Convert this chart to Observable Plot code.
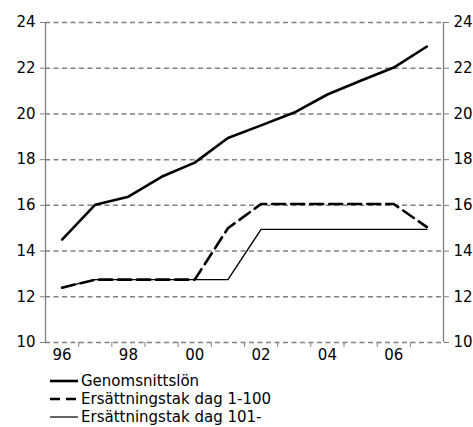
<!DOCTYPE html>
<html>
<head>
<meta charset="utf-8">
<script src="https://cdn.jsdelivr.net/npm/d3@7"></script>
<script src="https://cdn.jsdelivr.net/npm/@observablehq/plot@0.6"></script>
<style>
  body { margin: 0; background: #fff; font-family: "DejaVu Sans", Verdana, sans-serif; }
  #chart svg text { font-size: 15px !important; font-family: "DejaVu Sans", Verdana, sans-serif !important; fill: #000; }
  #legend { margin-left: 50px; margin-top: 7px; font-size: 15px; color: #000; }
  .row { display: flex; align-items: center; height: 18px; }
  .row svg { margin-right: 3px; }
</style>
</head>
<body>
<div id="chart"></div>
<div id="legend"></div>
<script>
const years = [1996, 1997, 1998, 1999, 2000, 2001, 2002, 2003, 2004, 2005, 2006, 2007];
const genomsnittslon = [14.5, 16.03, 16.38, 17.25, 17.87, 18.95, 19.5, 20.06, 20.85, 21.45, 22.03, 22.95];
const tak1_100 = [12.4, 12.75, 12.75, 12.75, 12.75, 15.0, 16.06, 16.06, 16.06, 16.06, 16.06, 15.05];
const tak101 = [12.4, 12.75, 12.75, 12.75, 12.75, 12.75, 14.95, 14.95, 14.95, 14.95, 14.95, 14.95];
const yTicks = [10, 12, 14, 16, 18, 20, 22, 24];
const xLabelYears = [1996, 1998, 2000, 2002, 2004, 2006];
const xDomain = [1995.5, 2007.5];
const xTickBounds = [1996.5, 1997.5, 1998.5, 1999.5, 2000.5, 2001.5, 2002.5, 2003.5, 2004.5, 2005.5, 2006.5];
const seriesNames = ["Genomsnittslön", "Ersättningstak dag 1-100", "Ersättningstak dag 101-"];

const rows = (vals) => years.map((y, i) => ({year: y, value: vals[i]}));
const grid = "#808080";
const FS = 15;

const plot = Plot.plot({
  width: 473,
  height: 365,
  marginLeft: 45,
  marginRight: 30,
  marginTop: 22,
  marginBottom: 23,
  style: {fontFamily: "DejaVu Sans, Verdana, sans-serif", fontSize: "15px", color: "#000", background: "#fff"},
  x: {type: "linear", domain: xDomain},
  y: {domain: [10, 24]},
  marks: [
    Plot.ruleY(yTicks, {stroke: grid, strokeWidth: 1.5, strokeDasharray: "5,3.5"}),
    Plot.ruleX(xDomain, {stroke: grid, strokeWidth: 1.3}),
    Plot.axisY({anchor: "left", ticks: yTicks, tickSize: 5, tickPadding: 5, stroke: grid, fill: "#000", fontSize: FS, label: null, tickFormat: d => d}),
    Plot.axisY({anchor: "right", ticks: yTicks, tickSize: 5, tickPadding: 5, stroke: grid, fill: "#000", fontSize: FS, label: null, tickFormat: d => d}),
    Plot.axisX({ticks: xTickBounds, tickSize: 5, stroke: grid, tickFormat: () => "", label: null}),
    Plot.axisX({ticks: xLabelYears, tickSize: 0, tickPadding: 7, fill: "#000", fontSize: FS, label: null, tickFormat: d => String(d).slice(2)}),
    Plot.line(rows(tak101), {x: "year", y: "value", stroke: "#000", strokeWidth: 1.4}),
    Plot.line(rows(tak1_100), {x: "year", y: "value", stroke: "#000", strokeWidth: 2.6, strokeDasharray: "13,6"}),
    Plot.line(rows(genomsnittslon), {x: "year", y: "value", stroke: "#000", strokeWidth: 2.6})
  ]
});
d3.select(plot).selectAll("text").attr("font-size", FS).style("font-size", FS + "px");
document.getElementById("chart").appendChild(plot);

const legendStyles = [
  {w: 2.6, dash: null},
  {w: 2.6, dash: "10,6"},
  {w: 1.2, dash: null}
];
const legend = document.getElementById("legend");
seriesNames.forEach((name, i) => {
  const s = legendStyles[i];
  const row = document.createElement("div");
  row.className = "row";
  row.innerHTML = `<svg width="28" height="10"><line x1="0" x2="28" y1="5" y2="5" stroke="#000" stroke-width="${s.w}" ${s.dash ? `stroke-dasharray="${s.dash}"` : ""}/></svg><span>${name}</span>`;
  legend.appendChild(row);
});
</script>
</body>
</html>
